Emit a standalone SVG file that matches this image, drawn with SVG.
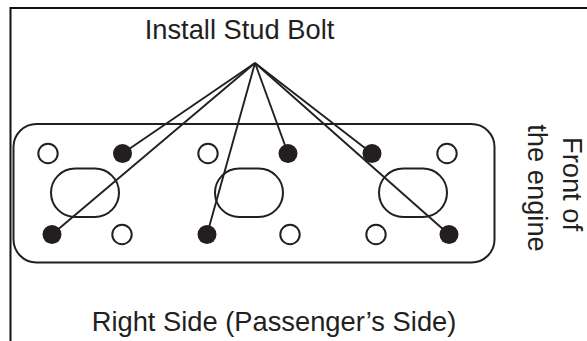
<svg xmlns="http://www.w3.org/2000/svg" width="587" height="341" viewBox="0 0 587 341">
<style>
.t{font-family:"Liberation Sans",Arial,sans-serif;font-size:27.3px;fill:#231f20}
.o{fill:#fff;stroke:#231f20;stroke-width:2}
.f{fill:#231f20;stroke:none}
.l{fill:none;stroke:#231f20;stroke-width:1.9}
</style>
<rect width="587" height="341" fill="#fff"/>
<path d="M10.500 341V8H587" fill="none" stroke="#111" stroke-width="2"/>
<g id="plate">
<rect x="13.500" y="124" width="481" height="138.500" rx="23" class="o"/>
<rect x="51" y="168.500" width="68" height="48.500" rx="24.200" class="o"/>
<rect x="215" y="168.500" width="68" height="48.500" rx="24.200" class="o"/>
<rect x="379" y="168.500" width="68" height="48.500" rx="24.200" class="o"/>
</g>
<g id="holes">
<circle cx="48" cy="153.500" r="9.700" class="o"/>
<circle cx="208" cy="153.500" r="9.700" class="o"/>
<circle cx="447" cy="153.500" r="9.700" class="o"/>
<circle cx="122" cy="234.500" r="9.700" class="o"/>
<circle cx="290" cy="234.500" r="9.700" class="o"/>
<circle cx="376" cy="234.500" r="9.700" class="o"/>
</g>
<g id="connectors" class="l">
<path d="M255 63L122.500 153.500"/>
<path d="M255 63L52 234.500"/>
<path d="M255 63L207 234.500"/>
<path d="M255 63L288 153.500"/>
<path d="M255 63L372 153.500"/>
<path d="M255 63L449 234.500"/>
</g>
<g id="studs">
<circle cx="122.500" cy="153.500" r="9.500" class="f"/>
<circle cx="288" cy="153.500" r="9.500" class="f"/>
<circle cx="372" cy="153.500" r="9.500" class="f"/>
<circle cx="52" cy="234.500" r="9.500" class="f"/>
<circle cx="207" cy="234.500" r="9.500" class="f"/>
<circle cx="449" cy="234.500" r="9.500" class="f"/>
</g>
<text class="t" x="239.500" y="39" text-anchor="middle">Install Stud Bolt</text>
<text class="t" x="274" y="331" text-anchor="middle">Right Side (Passenger’s Side)</text>
<text class="t" transform="translate(563 184) rotate(90)" text-anchor="middle">Front of</text>
<text class="t" transform="translate(528 188) rotate(90)" text-anchor="middle">the engine</text>
</svg>
